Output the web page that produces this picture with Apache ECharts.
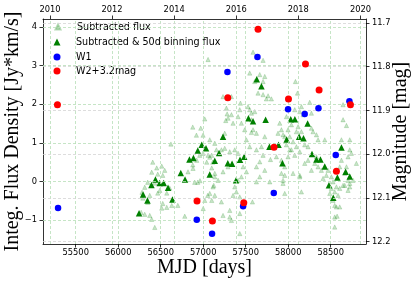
<!DOCTYPE html>
<html><head><meta charset="utf-8">
<script src="https://cdn.jsdelivr.net/npm/echarts@6/dist/echarts.min.js"></script>
<style>html,body{margin:0;padding:0;background:#fff}#c{width:416px;height:283px}</style>
</head><body><div id="c"></div>
<script>
// ---- tick values / labels ----
const mjdTicks = [55500, 56000, 56500, 57000, 57500, 58000, 58500];
const yearTicks = [2010, 2012, 2014, 2016, 2018, 2020];
const fluxTicks = [-1, 0, 1, 2, 3, 4];
const magTicks = [11.7, 11.8, 11.9, 12.0, 12.1, 12.2];

// ---- Subtracted flux (light triangles): [MJD, flux] ----
const subtractedFlux = [
[56270,-0.80],[56280,-0.28],[56290,-0.43],[56312,-0.15],[56312,-0.85],[56347,-0.02],[56347,-0.54],[56371,-0.36],[56371,-0.88],[56394,0.24],[56394,-0.98],[56406,0.50],[56430,-0.04],[56430,-1.19],[56453,0.35],[56465,0.19],[56465,-0.30],[56489,-0.23],[56512,0.40],[56512,-0.69],[56524,0.16],[56524,-0.57],[56547,0.29],[56571,-0.30],[56571,-0.67],[56606,-0.17],[56620,0.97],[56630,-0.62],[56701,-0.62],[56783,-0.90],[56821,0.25],[56880,0.34],[56959,0.68],[56998,0.73],[56877,1.41],[56971,1.38],[57018,1.62],[56920,1.20],[56998,1.20],[56877,0.43],[56924,0.55],[56900,-0.02],[56936,-0.02],[56962,0.02],[57041,0.50],[57057,0.68],[57077,0.63],[57100,0.68],[57112,0.50],[57100,0.35],[57124,-0.10],[57100,-0.49],[57053,-0.36],[57000,-0.70],[57077,-0.31],[57018,-0.49],[57057,3.16],[57136,-0.36],[57136,0.21],
[57586,3.35],[57704,3.14],[57547,2.81],[57665,2.77],[57724,2.72],[57606,2.59],[57704,2.59],[57645,2.29],[57704,2.25],[57763,2.22],[57802,2.14],[57743,2.14],[57233,2.20],[57332,2.20],[57438,2.03],[57527,1.94],[57547,1.86],[57567,1.77],[57606,1.81],[57567,1.60],[57586,1.34],[57567,1.27],[57626,1.25],[57273,1.90],[57332,1.73],[57292,1.64],[57265,1.58],[57351,1.51],[57410,1.68],[57449,1.51],[57488,1.34],[57253,1.25],[57430,1.86],[57281,1.75],[57077,1.08],[57136,0.99],[57155,0.82],[57214,0.82],[57253,0.86],[57312,0.77],[57371,0.82],[57410,0.73],[57508,1.08],[57547,0.90],[57626,0.82],[57685,0.90],[57704,0.68],[57665,0.51],[57626,0.38],[57724,0.29],[57665,0.12],[57469,0.38],[57508,0.25],[57449,0.12],[57410,0.03],[57371,-0.14],[57390,-0.27],[57430,-0.40],[57351,-0.36],[57214,-0.53],[57312,-0.75],[57430,-0.83],[57233,-0.88],[57332,-1.01],[57430,-1.35],[57136,0.12],[57175,0.03],[57116,-0.14],[57233,0.25],[57292,0.38],[57861,0.64],[57920,0.55],[57959,0.38],[57920,0.21],[57939,-0.05],[57959,-0.31],[57880,1.25],[57920,1.34],[57959,1.16],[57900,1.51],[57312,-0.92],[57626,-0.01],[57579,-0.53],[57791,0.57],[57724,1.16],[57939,1.21],[57783,-0.01],[57939,0.03],[57959,0.16],
[58085,2.59],[58109,2.29],[58253,2.05],[58155,1.94],[58077,1.86],[58136,1.81],[58175,1.73],[58273,1.77],[57979,1.68],[58038,1.47],[58116,1.42],[58096,1.29],[58155,1.29],[58273,1.38],[58292,1.29],[58332,1.21],[58351,1.08],[57998,1.34],[58018,1.16],[58057,1.03],[57979,0.95],[58038,0.82],[58096,0.90],[58077,0.68],[58136,0.77],[58194,0.95],[58233,0.90],[57998,0.64],[58430,1.08],[58626,1.08],[58645,1.60],[58645,1.99],[58724,0.82],[58704,0.64],[58626,0.55],[58606,0.38],[58685,0.38],[58665,0.21],[58704,0.03],[58665,-0.10],[58724,-0.14],[58606,-0.18],[58332,0.64],[58312,0.47],[58351,0.38],[58390,0.29],[58468,0.29],[58449,0.16],[58410,0.08],[58508,0.12],[58527,-0.01],[58567,-0.14],[58508,-0.18],[58489,-0.31],[58547,-0.27],[58586,-0.36],[58527,-0.49],[58547,-0.62],[58567,-0.66],[58547,-0.92],[58547,-1.18],[58136,0.16],[58155,-0.27],[58273,0.29],[58233,0.55],[58194,0.47],[58018,0.82],[58057,0.21],[58136,0.12],[58575,-0.90],[58606,-0.66],[58645,-0.10],[58724,-0.05],[58704,-0.23],[58763,0.03],[58743,0.73],[58724,1.08],[58802,0.47],[58685,1.45]
];

// ---- Subtracted & 50d binning flux ----
const binMJD = [56245,56292,56344,56391,56438,56488,56535,56586,56638,56736,56786,56838,56885,56936,56983,57033,57077,57136,57186,57233,57289,57339,57386,57433,57482,57532,57586,57630,57685,57734,57779,57886,57932,57981,58030,58078,58128,58180,58228,58280,58332,58379,58430,58479,58530,58578,58626,58675,58724];
const binFlux = [-0.82,-0.34,-0.49,-0.09,0.05,-0.04,-0.04,-0.16,-0.47,0.22,0.05,0.57,0.61,0.80,0.95,0.86,0.18,0.54,0.74,1.16,0.47,0.46,0.03,0.56,0.64,1.64,1.56,2.65,2.47,1.60,0.90,0.95,0.47,1.09,1.61,1.61,1.16,1.12,1.50,0.71,0.57,0.57,0.39,-0.10,-0.42,0.10,0.88,0.25,0.13];

// ---- WISE magnitudes ----
const w1MJD = [55292,56924,57104,57285,57469,57638,57830,57998,58194,58356,58559,58720];
const w1Mag = [12.123,12.150,12.182,11.812,12.119,11.778,12.089,11.897,11.908,11.895,12.002,11.879];
const w2MJD = [55285,56927,57108,57289,57477,57645,57833,58003,58203,58363,58567,58732];
const w2Mag = [11.887,12.107,12.153,11.871,12.111,11.714,11.984,11.874,11.794,11.853,12.039,11.887];

const X_MIN = 55115, X_MAX = 58915;
// MJD 55197 = 2010-01-01; Julian year 365.25 d
const mjdToYear = (m) => 2010 + (m - 55197) / 365.25;
const YR_MIN = mjdToYear(X_MIN), YR_MAX = mjdToYear(X_MAX);
const Y_MIN = -1.62, Y_MAX = 4.21;
const M_MIN = 11.6908, M_MAX = 12.2055;

const tickFont = {fontFamily: 'DejaVu Sans', fontSize: 8.3, color: '#000'};
const nameFont = {fontFamily: 'Liberation Serif', fontSize: 20, color: '#000'};
const legFont = {fontFamily: 'DejaVu Sans', fontSize: 9.6, color: '#000', lineHeight: 12};
const axLine = {show: true, onZero: false, lineStyle: {color: '#000', width: 0.8}};
const tick = (vals) => ({show: true, inside: false, length: 3.5, customValues: vals, lineStyle: {color: '#000', width: 0.8}});
const minus = (v) => (v < 0 ? '\u2212' + Math.abs(v) : String(v));
const lbl = (vals, fmt, margin) => Object.assign({show: true, customValues: vals, margin: margin,
  hideOverlap: false, formatter: fmt}, tickFont);

const chart = echarts.init(document.getElementById('c'), null, {renderer: 'canvas'});

function legendItem(name, icon, size, top, pad) {
  return {
    data: [{name: name, icon: icon}], orient: 'vertical',
    left: 57 - size / 2, top: top, itemWidth: size, itemHeight: size,
    padding: 0, selectedMode: false,
    textStyle: Object.assign({}, legFont, {padding: [0, 0, 0, pad]})
  };
}

const gridMark = (color, data) => ({silent: true, symbol: ['none', 'none'],
  label: {show: false}, animation: false,
  emphasis: {disabled: true}, lineStyle: {color: color, type: [3, 2], width: 0.8}, data: data});

chart.setOption({
  animation: false,
  backgroundColor: '#fff',
  grid: {left: 43, top: 19, width: 323, height: 225, containLabel: false, outerBoundsMode: 'none'},
  legend: [
    legendItem('Subtracted flux', 'triangle', 5, 21, 11.5),
    legendItem('Subtracted & 50d binning flux', 'triangle', 7, 36, 10.5),
    legendItem('W1', 'circle', 7, 51, 10.5),
    legendItem('W2+3.2mag', 'circle', 7, 65, 10.5)
  ],
  xAxis: [
    {type: 'value', position: 'bottom', min: X_MIN, max: X_MAX,
     axisLine: axLine, axisTick: tick(mjdTicks),
     axisLabel: lbl(mjdTicks, (v) => String(v), 5),
     splitLine: {show: false},
     name: 'MJD [days]', nameLocation: 'middle', nameGap: 14, nameMoveOverlap: false, nameTextStyle: nameFont},
    {type: 'value', position: 'top', min: YR_MIN, max: YR_MAX,
     axisLine: axLine, axisTick: tick(yearTicks),
     axisLabel: lbl(yearTicks, (v) => String(Math.round(v)), 5),
     splitLine: {show: false}}
  ],
  yAxis: [
    {type: 'value', position: 'left', min: Y_MIN, max: Y_MAX,
     axisLine: axLine, axisTick: tick(fluxTicks),
     axisLabel: lbl(fluxTicks, minus, 6),
     splitLine: {show: false},
     name: 'Integ. Flux Density [Jy*km/s]', nameLocation: 'middle', nameRotate: 90, nameGap: 20, nameMoveOverlap: false, nameTextStyle: nameFont},
    {type: 'value', position: 'right', inverse: true, min: M_MIN, max: M_MAX,
     axisLine: axLine, axisTick: tick(magTicks),
     axisLabel: lbl(magTicks, (v) => v.toFixed(1), 6),
     splitLine: {show: false},
     name: 'Magnitude [mag]', nameLocation: 'middle', nameRotate: 90, nameGap: 25, nameMoveOverlap: false, nameTextStyle: nameFont}
  ],
  series: [
    {type: 'line', data: [], xAxisIndex: 0, yAxisIndex: 0, z: 1, silent: true,
     markLine: gridMark('#b8deb8', mjdTicks.map(v => ({xAxis: v})).concat(fluxTicks.map(v => ({yAxis: v}))))},
    {type: 'line', data: [], xAxisIndex: 1, yAxisIndex: 0, z: 1, silent: true,
     markLine: gridMark('#b8deb8', yearTicks.map(v => ({xAxis: v})))},
    {type: 'line', data: [], xAxisIndex: 0, yAxisIndex: 1, z: 1, silent: true,
     markLine: gridMark('#d4d4d4', magTicks.map(v => ({yAxis: v})))},
    {name: 'Subtracted flux', type: 'scatter', xAxisIndex: 0, yAxisIndex: 0, z: 3,
     symbol: 'triangle', symbolSize: 4.3,
     itemStyle: {color: 'rgba(0,128,0,0.22)', borderColor: 'rgba(0,128,0,0.28)', borderWidth: 0.6, opacity: 1},
     data: subtractedFlux},
    {name: 'Subtracted & 50d binning flux', type: 'scatter', xAxisIndex: 0, yAxisIndex: 0, z: 4,
     symbol: 'triangle', symbolSize: 6.5, itemStyle: {color: '#008000', opacity: 1},
     data: binMJD.map((m, i) => [m, binFlux[i]])},
    {name: 'W1', type: 'scatter', xAxisIndex: 0, yAxisIndex: 1, z: 5,
     symbol: 'circle', symbolSize: 6.5, itemStyle: {color: '#0000ff', opacity: 1},
     data: w1MJD.map((m, i) => [m, w1Mag[i]])},
    {name: 'W2+3.2mag', type: 'scatter', xAxisIndex: 0, yAxisIndex: 1, z: 6,
     symbol: 'circle', symbolSize: 7, itemStyle: {color: '#ff0000', opacity: 1},
     data: w2MJD.map((m, i) => [m, w2Mag[i]])}
  ]
});
</script></body></html>
